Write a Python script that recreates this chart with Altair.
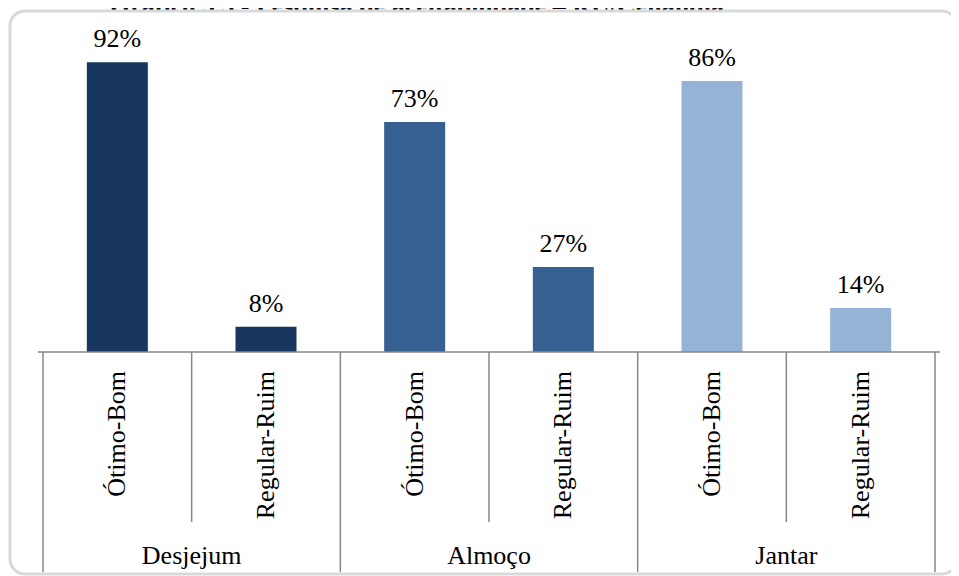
import altair as alt
import pandas as pd
import numpy as np

# ---- data ----
groups = ["Desjejum", "Desjejum", "Almoço", "Almoço", "Jantar", "Jantar"]
ratings = ["Ótimo-Bom", "Regular-Ruim", "Ótimo-Bom", "Regular-Ruim", "Ótimo-Bom", "Regular-Ruim"]
values = [92, 8, 73, 27, 86, 14]
group_names = ["Desjejum", "Almoço", "Jantar"]
group_colors = ["#17375E", "#366092", "#95B3D7"]
title_text = "Gráfico 5.5 - Pesquisa de aceitabilidade – RU/Ceilândia"

FONT = "'Liberation Serif', 'Times New Roman', 'DejaVu Serif', serif"
GRID = "#878787"

bars = pd.DataFrame({
    "grupo": groups,
    "avaliacao": ratings,
    "valor": values,
    "pos": np.arange(len(values)) + 0.5,
})
bars["rotulo"] = bars["valor"].astype(str) + "%"

groups_df = pd.DataFrame({
    "grupo": group_names,
    "centro": np.arange(len(group_names)) * 2 + 1.0,
})
group_edges = pd.DataFrame({"b": np.arange(0, len(values) + 1, 2)})
sub_edges = pd.DataFrame({"b": np.arange(1, len(values), 2)})

xs = alt.Scale(domain=[0, len(values)], nice=False, zero=False)
ys = alt.Scale(domain=[0, 100], nice=False)
color = alt.Color("grupo:N", scale=alt.Scale(domain=group_names, range=group_colors), legend=None)

base = alt.Chart(bars)

title = alt.Chart(pd.DataFrame({"t": [title_text]})).mark_text(
    font=FONT, fontSize=26, fontWeight="bold", baseline="alphabetic", align="center", color="black"
).encode(text="t:N", x=alt.value(379), y=alt.value(-23))

frame = alt.Chart(pd.DataFrame({"k": [0]})).mark_rect(
    fill="white", stroke="#d9d9d9", strokeWidth=3, cornerRadius=15
).encode(
    x=alt.value(-28), x2=alt.value(919), y=alt.value(-26), y2=alt.value(537)
)

bar = base.mark_bar(size=61).encode(
    x=alt.X("pos:Q", scale=xs, axis=None),
    y=alt.Y("valor:Q", scale=ys, axis=None),
    color=color,
)

pct = base.mark_text(
    font=FONT, fontSize=26, baseline="alphabetic", dy=-15, color="black"
).encode(
    x=alt.X("pos:Q", scale=xs), y=alt.Y("valor:Q", scale=ys), text="rotulo:N"
)

sub_lab = base.mark_text(
    font=FONT, fontSize=26, angle=270, align="right", baseline="middle", color="black"
).encode(
    x=alt.X("pos:Q", scale=xs), y=alt.value(334), text="avaliacao:N"
)

grp_lab = alt.Chart(groups_df).mark_text(
    font=FONT, fontSize=26, baseline="alphabetic", color="black"
).encode(
    x=alt.X("centro:Q", scale=xs), y=alt.value(527), text="grupo:N"
)

baseline_rule = alt.Chart(pd.DataFrame({"v": [0]})).mark_rule(color=GRID, strokeWidth=1.5).encode(
    y=alt.Y("v:Q", scale=ys), x=alt.value(0), x2=alt.value(902)
)

grp_rules = alt.Chart(group_edges).mark_rule(color=GRID, strokeWidth=1.5).encode(
    x=alt.X("b:Q", scale=xs), y=alt.value(315), y2=alt.value(535)
)
sub_rules = alt.Chart(sub_edges).mark_rule(color=GRID, strokeWidth=1.5).encode(
    x=alt.X("b:Q", scale=xs), y=alt.value(315), y2=alt.value(485)
)

chart = alt.layer(
    title, frame, bar, pct, baseline_rule, grp_rules, sub_rules, sub_lab, grp_lab
).properties(
    width=902, height=315,
    autosize=alt.AutoSizeParams(type="none"),
    padding={"left": 30, "top": 29, "right": 11, "bottom": 224},
).configure_view(stroke=None)

chart.save("out.html", embed_options={"renderer": "svg", "actions": False})
